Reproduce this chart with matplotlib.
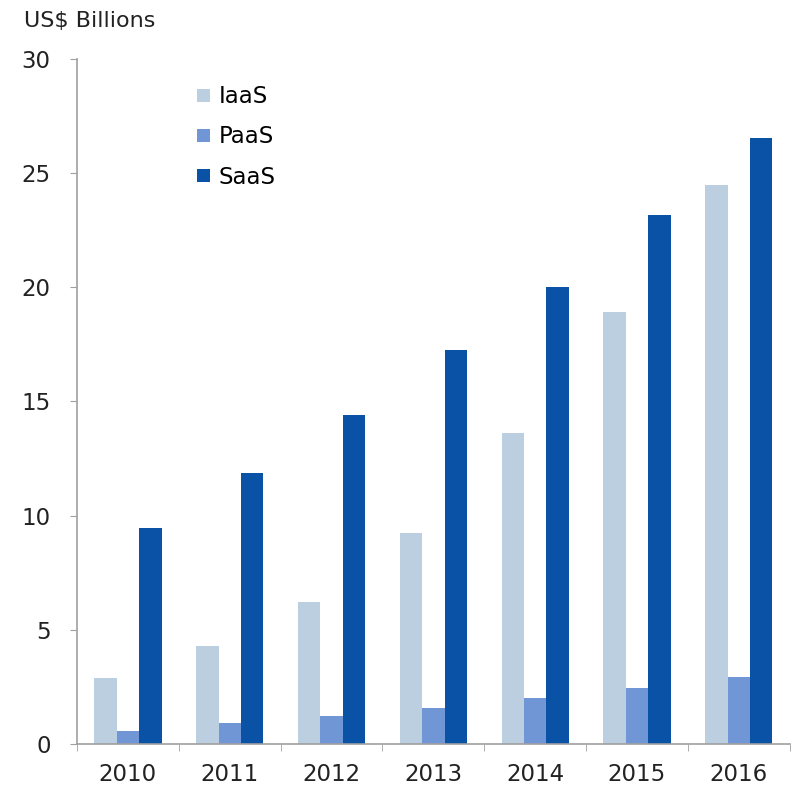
import numpy as np
import matplotlib.pyplot as plt

years = ["2010", "2011", "2012", "2013", "2014", "2015", "2016"]
iaas = [2.9, 4.3, 6.2, 9.25, 13.6, 18.9, 24.5]
paas = [0.57, 0.92, 1.23, 1.58, 2.0, 2.45, 2.93]
saas = [9.45, 11.87, 14.4, 17.27, 20.0, 23.15, 26.55]

series = [("IaaS", iaas, "#bccfe0"), ("PaaS", paas, "#7096d6"), ("SaaS", saas, "#0a52a6")]

plt.rcParams['font.family'] = ['DejaVu Sans']

fig = plt.figure(figsize=(7.98, 7.86), dpi=100)
ax = fig.add_axes([0.0965, 0.0534, 0.893, 0.8716])

x = np.arange(len(years))
w = 0.22
for i, (name, vals, col) in enumerate(series):
    ax.bar(x + (i - 1) * w, vals, width=w, color=col, label=name)

ax.set_xlim(-0.5, len(years) - 0.5)
ax.set_ylim(0, 30)
ax.set_yticks(range(0, 31, 5))
ax.set_xticks(x)
ax.set_xticklabels(years)
ax.set_xticks(np.arange(-0.5, len(years)), minor=True)

for s in ["top", "right"]:
    ax.spines[s].set_visible(False)
for s in ["left", "bottom"]:
    ax.spines[s].set_color("#a0a0a0")
    ax.spines[s].set_linewidth(1.2)

ax.tick_params(axis="x", which="major", length=0, labelsize=16.5, colors="#222222", pad=14)
ax.tick_params(axis="x", which="minor", length=5, color="#a0a0a0", direction="out")
ax.tick_params(axis="y", length=5, color="#a0a0a0", labelsize=16.5, labelcolor="#222222", pad=14)

fig.text(0.03, 0.973, "US$ Billions", fontsize=16, color="#222222", va="center")

ax.legend(loc="upper left", bbox_to_anchor=(0.155, 0.975), frameon=False, fontsize=16.5,
          handlelength=0.6, handleheight=0.5, handletextpad=0.35, labelspacing=0.75,
          borderaxespad=0)

fig.savefig("out.png", dpi=100)
